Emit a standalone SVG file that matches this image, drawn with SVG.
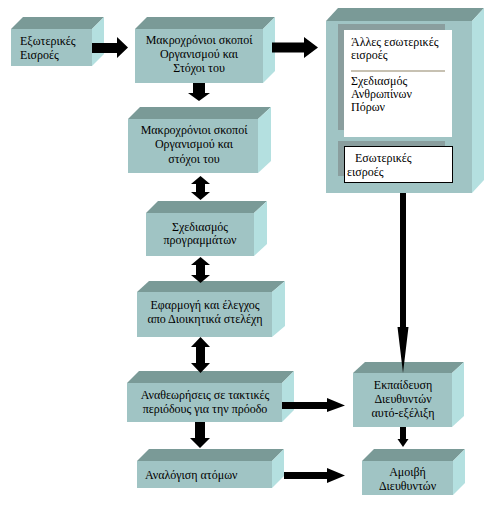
<svg xmlns="http://www.w3.org/2000/svg" width="495" height="508" viewBox="0 0 495 508">
<style>
.f{fill:#a0c4c4}
.t{fill:#7a9a97}
.r{fill:#b4e0e0}
.a{fill:#000}
text{font-family:"Liberation Serif","Times New Roman",serif;font-size:12px;fill:#000}
.c{text-anchor:middle}
</style>
<rect width="495" height="508" fill="#fff"/>
<g id="n1">
<rect class="f" x="11" y="29" width="81" height="37"/>
<polygon class="t" points="11,29 92,29 104,17 23,17"/>
<polygon class="r" points="92,29 104,17 104,54 92,66"/>
<text x="20" y="45">Εξωτερικές</text>
<text x="20" y="59">Εισροές</text>
</g>
<g id="n2">
<rect class="f" x="135" y="29" width="128" height="54"/>
<polygon class="t" points="135,29 263,29 275,17 147,17"/>
<polygon class="r" points="263,29 275,17 275,71 263,83"/>
<text class="c" x="199" y="44">Μακροχρόνιοι σκοποί</text>
<text class="c" x="199" y="58">Οργανισμού και</text>
<text class="c" x="199" y="72">Στόχοι του</text>
</g>
<g id="n3">
<rect class="f" x="128" y="119" width="130" height="54"/>
<polygon class="t" points="128,119 258,119 271,107 140,107"/>
<polygon class="r" points="258,119 271,107 271,161 258,173"/>
<text class="c" x="194" y="134">Μακροχρόνιοι σκοποί</text>
<text class="c" x="194" y="148">Οργανισμού και</text>
<text class="c" x="194" y="163">στόχοι του</text>
</g>
<g id="n4">
<rect class="f" x="146" y="213" width="108" height="43"/>
<polygon class="t" points="146,213 254,213 267,201 158,201"/>
<polygon class="r" points="254,213 267,201 267,244 254,256"/>
<text class="c" x="200" y="231">Σχεδιασμός</text>
<text class="c" x="200" y="244">προγραμμάτων</text>
</g>
<g id="n5">
<rect class="f" x="137" y="292" width="135" height="45"/>
<polygon class="t" points="137,292 272,292 285,281 149,281"/>
<polygon class="r" points="272,292 285,281 285,326 272,337"/>
<text class="c" x="205" y="309">Εφαρμογή και έλεγχος</text>
<text class="c" x="205" y="323">απο Διοικητικά στελέχη</text>
</g>
<g id="n6">
<rect class="f" x="127" y="383" width="155" height="39"/>
<polygon class="t" points="127,383 282,383 294,371 139,371"/>
<polygon class="r" points="282,383 294,371 294,410 282,422"/>
<text class="c" x="205" y="399">Αναθεωρήσεις σε τακτικές</text>
<text class="c" x="205" y="413">περιόδους για την πρόοδο</text>
</g>
<g id="n7">
<rect class="f" x="137" y="461" width="135" height="27"/>
<polygon class="t" points="137,461 272,461 284,449 149,449"/>
<polygon class="r" points="272,461 284,449 284,476 272,488"/>
<text x="145" y="479">Αναλόγιση ατόμων</text>
</g>
<g id="n8">
<rect class="f" x="326" y="21" width="146" height="172"/>
<polygon class="t" points="326,21 472,21 484,8 338,8"/>
<polygon class="r" points="472,21 484,8 484,180 472,193"/>
<rect x="338" y="24" width="107" height="106" fill="#8a9e9e"/>
<rect x="344" y="30" width="108" height="107" fill="#fff"/>
<line x1="351" y1="71" x2="445" y2="71" stroke="#b5ad98" stroke-width="1.5"/>
<text x="351" y="46">Άλλες εσωτερικές</text>
<text x="351" y="59">εισροές</text>
<text x="351" y="85">Σχεδιασμός</text>
<text x="351" y="98">Ανθρωπίνων</text>
<text x="351" y="111">Πόρων</text>
<rect x="338" y="141" width="107" height="35" fill="#8a9e9e"/>
<rect x="344.5" y="146.5" width="108" height="36" fill="#fff" stroke="#000" stroke-width="1"/>
<text x="355" y="162">Εσωτερικές</text>
<text x="347" y="176">εισροές</text>
</g>
<g id="n9">
<rect class="f" x="353" y="373" width="99" height="54"/>
<polygon class="t" points="353,373 452,373 464,362 365,362"/>
<polygon class="r" points="452,373 464,362 464,416 452,427"/>
<text class="c" x="403" y="389">Εκπαίδευση</text>
<text class="c" x="403" y="403">Διευθυντών</text>
<text class="c" x="403" y="417">αυτό-εξέλιξη</text>
</g>
<g id="n10">
<rect class="f" x="362" y="461" width="91" height="34"/>
<polygon class="t" points="362,461 453,461 465,449 374,449"/>
<polygon class="r" points="453,461 465,449 465,483 453,495"/>
<text class="c" x="407.5" y="476">Αμοιβή</text>
<text class="c" x="407.5" y="490">Διευθυντών</text>
</g>
<g id="connectors">
<polygon class="a" points="92,43 117,43 117,37 128,47.5 117,58 117,53 92,53"/>
<polygon class="a" points="272,42.5 304,42.5 304,37 318,47.5 304,58 304,52.5 272,52.5"/>
<polygon class="a" points="193,83 205,83 205,93 210,93 199,101 188,93 193,93"/>
<polygon class="a" points="200.5,176 210,184 205,184 205,192 210,192 200.5,200 191,192 196,192 196,184 191,184"/>
<polygon class="a" points="200.5,257 210,265 205,265 205,275 210,275 200.5,283 191,275 196,275 196,265 191,265"/>
<polygon class="a" points="200.5,337 210,347 205,347 205,363 210,363 200.5,373 191,363 196,363 196,347 191,347"/>
<polygon class="a" points="195,422 205,422 205,438 210,438 200,448 190,438 195,438"/>
<polygon class="a" points="282,402 327,402 327,398 345,405.5 327,412 327,409 282,409"/>
<polygon class="a" points="284,472 327,472 327,468 345,475.5 327,483 327,479 284,479"/>
<polygon class="a" points="400,193 406,193 406,327 408.5,327 403,373 397.5,327 400,327"/>
<polygon class="a" points="400,427 406,427 406,439 408.5,439 403,447 397.5,439 400,439"/>
</g>
</svg>
